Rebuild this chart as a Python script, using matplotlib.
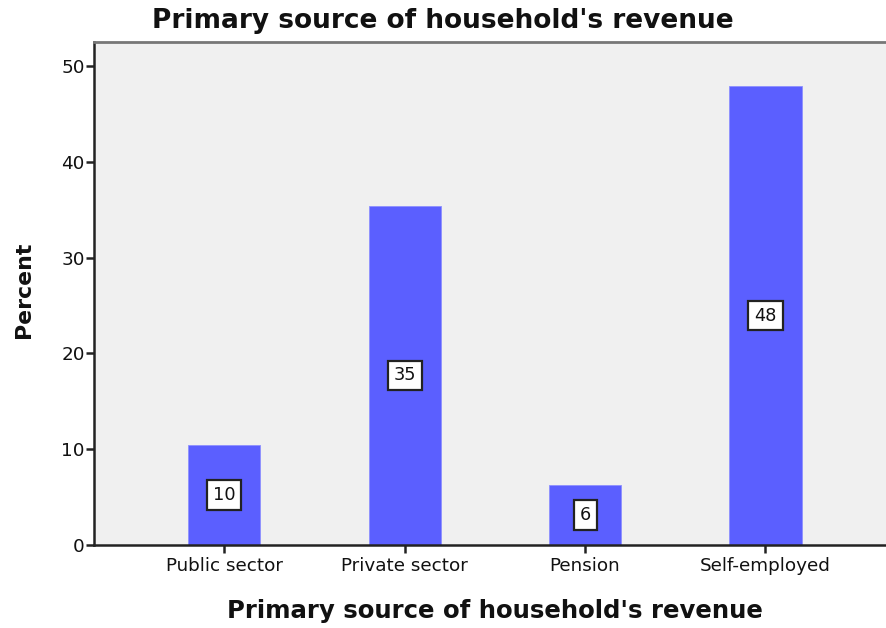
import matplotlib
matplotlib.use("Agg")
import matplotlib.pyplot as plt

categories = ["Public sector", "Private sector", "Pension", "Self-employed"]
percent = [10.4, 35.4, 6.3, 47.9]
y_ticks = [0, 10, 20, 30, 40, 50]

title = "Primary source of household's revenue"
bar_color = "#5B5FFF"
panel_color = "#F0F0F0"
ink = "#111111"

fig = plt.figure(figsize=(8.86, 6.28), dpi=100)
ax = fig.add_axes([94 / 886, 1 - 545 / 628, 1 - 94 / 886 + 0.002, (545 - 42) / 628])
ax.set_facecolor(panel_color)

x = list(range(len(categories)))
ax.bar(x, percent, width=0.4, color=bar_color, edgecolor="#8E90FF", linewidth=0.6, zorder=2)

for xi, v in zip(x, percent):
    ax.text(xi, v / 2, f"{v:.0f}", ha="center", va="center", fontsize=12.8,
            family="DejaVu Sans", color=ink, zorder=3,
            bbox=dict(boxstyle="square,pad=0.33", facecolor="white",
                      edgecolor="#222222", linewidth=1.6))

ax.set_xlim(-0.722, 3.678)
ax.set_ylim(0, 52.5)
ax.set_yticks(y_ticks)
ax.set_xticks(x)
ax.set_xticklabels(categories, family="DejaVu Sans", fontsize=13.2, color=ink)
ax.set_yticklabels([str(t) for t in y_ticks], family="DejaVu Sans", fontsize=13.2, color=ink)
ax.tick_params(axis="both", direction="out", length=5.8, width=1.8, color="#222222")
ax.tick_params(axis="y", pad=0.8)
ax.tick_params(axis="x", pad=2.5)

for side in ["left", "bottom"]:
    ax.spines[side].set_color("#222222")
    ax.spines[side].set_linewidth(1.8)
ax.spines["top"].set_color("#777777")
ax.spines["top"].set_linewidth(2.0)
ax.spines["right"].set_visible(False)

ax.set_xlabel(title, family="DejaVu Sans", fontweight="bold", fontsize=17.6, color=ink)
ax.xaxis.set_label_coords(0.505, -0.108)
ax.set_ylabel("Percent", family="DejaVu Sans", fontweight="bold", fontsize=15.8, color=ink)
ax.yaxis.set_label_coords(-0.0758, 0.507)

fig.text(0.5, 1 - 28 / 628, title, ha="center", va="baseline", family="DejaVu Sans",
         fontweight="bold", fontsize=19, color=ink)

fig.savefig("out.png", dpi=100)
